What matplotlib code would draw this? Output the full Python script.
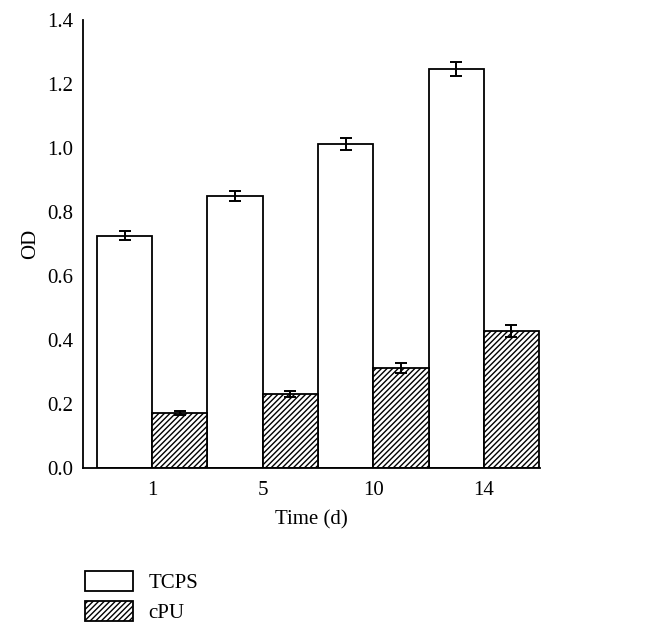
import numpy as np
import matplotlib
matplotlib.use('Agg')
import matplotlib.pyplot as plt

plt.rcParams['font.family'] = ['Liberation Serif', 'DejaVu Serif']
plt.rcParams['hatch.linewidth'] = 1.0

days = ['1', '5', '10', '14']
tcps = [0.725, 0.850, 1.012, 1.246]
tcps_err = [0.014, 0.016, 0.020, 0.022]
cpu = [0.172, 0.231, 0.313, 0.428]
cpu_err = [0.007, 0.010, 0.015, 0.020]

fig = plt.figure(figsize=(6.47, 6.36), dpi=100)
ax = fig.add_axes([0.128, 0.264, 0.707, 0.705])

x = np.arange(len(days))
w = 0.5
err_kw = dict(ecolor='black', elinewidth=1.4, capsize=4, capthick=1.4)

ax.bar(x - w / 2, tcps, w, yerr=tcps_err, color='white', edgecolor='black',
       linewidth=1.3, label='TCPS', error_kw=err_kw)
ax.bar(x + w / 2, cpu, w, yerr=cpu_err, color='white', edgecolor='black',
       linewidth=1.3, hatch='//////', label='cPU', error_kw=err_kw)

ax.set_xlim(-0.627, 3.51)
ax.set_ylim(0, 1.4)
ticks = np.arange(0, 1.41, 0.2)
ax.set_yticks(ticks)
ax.set_yticklabels(['%.1f' % v for v in ticks])
ax.set_xticks(x)
ax.set_xticklabels(days)
ax.tick_params(axis='both', length=0, labelsize=15)
ax.tick_params(axis='x', pad=9)
ax.tick_params(axis='y', pad=7)

for s in ['top', 'right']:
    ax.spines[s].set_visible(False)
for s in ['left', 'bottom']:
    ax.spines[s].set_linewidth(1.3)

ax.set_xlabel('Time (d)', fontsize=15, labelpad=8)
ax.set_ylabel('OD', fontsize=15, labelpad=5)

fig.legend(loc='upper left', bbox_to_anchor=(0.118, 0.115), frameon=False,
           fontsize=15, handlelength=2.3, handleheight=1.1,
           labelspacing=0.35, handletextpad=0.75, borderaxespad=0)

fig.savefig('out.png', dpi=100)
